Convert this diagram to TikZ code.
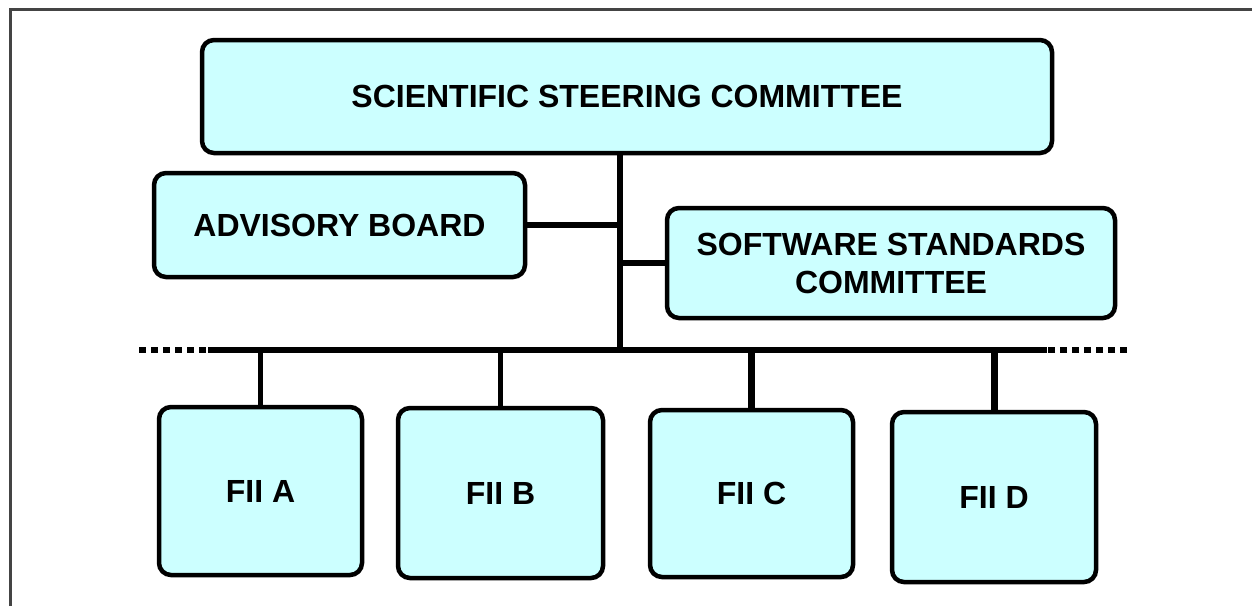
\documentclass[tikz,border=0pt]{standalone}
\usepackage{fontspec}
\setmainfont{Liberation Sans}
\definecolor{boxcyan}{HTML}{CCFFFF}
\definecolor{framegray}{HTML}{444444}
\tikzset{
    orgbox/.style={draw=black, line width=4.5pt, fill=boxcyan, rounded corners=12pt,
        align=center, inner sep=0pt, font=\bfseries\fontsize{32}{38}\selectfont},
    orgline/.style={line width=5.5pt},
    busline/.style={line width=6.5pt}
}
\begin{document}
\begin{tikzpicture}[x=1pt,y=-1pt]
    \useasboundingbox (0,0) rectangle (1252,606);
    % Rahmen
    \draw[framegray, line width=3pt] (10,606) -- (10,9) -- (1252,9);

    % Ausschuesse
    \node[orgbox, minimum width=850pt, minimum height=113pt] (ssc) at (627,96.5) {SCIENTIFIC STEERING COMMITTEE};
    \node[orgbox, minimum width=371pt, minimum height=104pt] (ab) at (339.5,225) {ADVISORY BOARD};
    \node[orgbox, minimum width=448pt, minimum height=110pt] (swc) at (891,263) {SOFTWARE STANDARDS\\COMMITTEE};

    % Gruppen
    \node[orgbox, minimum width=203pt, minimum height=168pt] (fiia) at (260.5,491) {FII A};
    \node[orgbox, minimum width=205pt, minimum height=170pt] (fiib) at (500.5,493) {FII B};
    \node[orgbox, minimum width=203pt, minimum height=167pt] (fiic) at (751.5,493.5) {FII C};
    \node[orgbox, minimum width=204pt, minimum height=170pt] (fiid) at (994,497) {FII D};

    % Stamm und Bus
    \coordinate (trunk) at (620,350);
    \coordinate (busl) at (208,350);
    \coordinate (busr) at (1047,350);
    \coordinate (busll) at (139,350);
    \coordinate (busrr) at (1127,350);
    \draw[orgline] (ssc.south -| trunk) -- (trunk);
    \draw[orgline] (ab.east) -- (ab.east -| trunk);
    \draw[orgline] (swc.west) -- (swc.west -| trunk);
    \draw[busline] (busl) -- (busr);
    \draw[busline, dash pattern=on 7pt off 5pt] (busll) -- (busl);
    \draw[busline, dash pattern=on 7pt off 5pt] (busrr) -- (busr);

    % Abzweige
    \draw[orgline] (fiia.north) -- (fiia.north |- trunk);
    \draw[orgline] (fiib.north) -- (fiib.north |- trunk);
    \draw[orgline, line width=7pt] (fiic.north) -- (fiic.north |- trunk);
    \draw[orgline, line width=7pt] (fiid.north) -- (fiid.north |- trunk);
\end{tikzpicture}
\end{document}
